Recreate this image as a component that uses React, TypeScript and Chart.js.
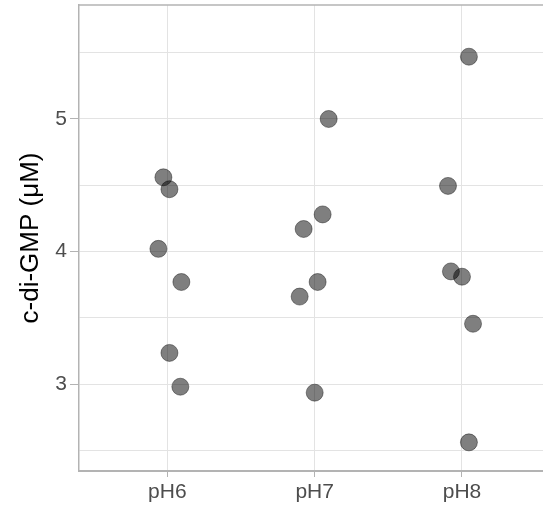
import React, { useEffect, useRef } from "react";
import { Chart, registerables } from "chart.js";

Chart.register(...registerables);

const categories = ["pH6", "pH7", "pH8"];
const categoryPositions = [1, 2, 3];

const pH6X = [0.973, 1.014, 0.939, 1.095, 1.014, 1.088];
const pH6Y = [4.56, 4.47, 4.02, 3.77, 3.235, 2.98];
const pH7X = [2.095, 2.054, 1.925, 2.02, 1.898, 2.0];
const pH7Y = [5.0, 4.28, 4.17, 3.77, 3.66, 2.935];
const pH8X = [3.047, 2.905, 2.925, 3.0, 3.075, 3.047];
const pH8Y = [5.47, 4.495, 3.85, 3.81, 3.455, 2.56];

const yTicks = [2.5, 3, 3.5, 4, 4.5, 5, 5.5];
const yLabels = [3, 4, 5];

const FONT = "'Liberation Sans', Arial, sans-serif";

export default function App() {
  const ref = useRef<HTMLCanvasElement | null>(null);
  useEffect(() => {
    if (!ref.current) return;
    const pts = [
      ...pH6X.map((x, i) => ({ x, y: pH6Y[i] })),
      ...pH7X.map((x, i) => ({ x, y: pH7Y[i] })),
      ...pH8X.map((x, i) => ({ x, y: pH8Y[i] })),
    ];
    const topBorder = {
      id: "topBorder",
      afterDraw(chart: any) {
        const { ctx, chartArea } = chart;
        ctx.save();
        ctx.strokeStyle = "#b3b3b3";
        ctx.lineWidth = 1.5;
        ctx.beginPath();
        ctx.moveTo(chartArea.left, chartArea.top);
        ctx.lineTo(chartArea.right, chartArea.top);
        ctx.stroke();
        ctx.restore();
      },
    };
    const chart = new Chart(ref.current, {
      type: "scatter",
      data: {
        datasets: [
          {
            data: pts,
            backgroundColor: "rgba(0,0,0,0.5)",
            borderColor: "rgba(0,0,0,0.4)",
            borderWidth: 1,
            pointRadius: 8.5,
            pointHoverRadius: 8.5,
            clip: false,
          },
        ],
      },
      options: {
        animation: false,
        responsive: false,
        maintainAspectRatio: false,
        layout: { autoPadding: false, padding: { top: 5, right: 0, left: 0, bottom: 0 } },
        plugins: { legend: { display: false }, tooltip: { enabled: false } },
        scales: {
          x: {
            type: "linear",
            min: 0.4,
            max: 3.55,
            afterBuildTicks(axis: any) {
              axis.ticks = categoryPositions.map((v) => ({ value: v }));
            },
            afterFit(axis: any) {
              axis.height = 45;
              axis.paddingLeft = 0;
              axis.paddingRight = 0;
            },
            ticks: {
              callback: (v: any) => {
                const i = categoryPositions.indexOf(Number(v));
                return i >= 0 ? categories[i] : "";
              },
              color: "#4d4d4d",
              font: { family: FONT, size: 21 },
              padding: 3,
              maxRotation: 0,
            },
            grid: {
              color: "#e3e3e3",
              lineWidth: 1,
              tickColor: "#b3b3b3",
              tickLength: 6,
            },
            border: { color: "#b3b3b3", width: 2 },
          },
          y: {
            type: "linear",
            min: 2.344,
            max: 5.86,
            afterBuildTicks(axis: any) {
              axis.ticks = yTicks.map((v) => ({ value: v }));
            },
            afterFit(axis: any) {
              axis.width = 79;
              axis.paddingTop = 0;
              axis.paddingBottom = 0;
            },
            ticks: {
              callback: (v: any) => (yLabels.includes(Number(v)) ? String(v) : ""),
              color: "#4d4d4d",
              font: { family: FONT, size: 21 },
              padding: 3,
            },
            grid: {
              color: "#e3e3e3",
              lineWidth: 1,
              tickColor: (c: any) =>
                c.tick && yLabels.includes(c.tick.value) ? "#b3b3b3" : "rgba(0,0,0,0)",
              tickLength: 9,
            },
            border: { color: "#b3b3b3", width: 1.5 },
            title: {
              display: true,
              text: "c-di-GMP (μM)",
              color: "#000000",
              font: { family: FONT, size: 26 },
              padding: { top: 15, bottom: 0 },
            },
          },
        },
      },
      plugins: [topBorder],
    });
    return () => chart.destroy();
  }, []);
  return (
    <div style={{ position: "absolute", left: 0, top: 0, width: 543, height: 516, background: "#fff" }}>
      <canvas ref={ref} width={543} height={516} style={{ display: "block" }} />
    </div>
  );
}
